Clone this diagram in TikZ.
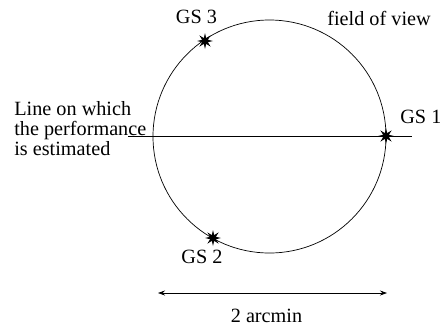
\documentclass[tikz,border=0pt]{standalone}
\usepackage{fontspec}
\setmainfont{Liberation Serif}
\usetikzlibrary{arrows.meta,shapes.geometric}

\begin{document}
\begin{tikzpicture}[x=1bp, y=-1bp, line width=0.7bp, >={Stealth[length=7bp,width=5bp]},
  every node/.style={font=\fontsize{20.3}{20}\selectfont, inner sep=0pt},
  gsstar/.style={star, star points=8, star point ratio=2.6, minimum size=16bp, fill=black, draw=none}]
  \useasboundingbox (0,0) rectangle (440,326);
  \node[circle, draw, minimum size=233bp] (fov) at (269.5,136.5) {};
  \coordinate (lineL) at (128,136);
  \coordinate (lineR) at (412,136);
  \draw (lineL) -- (lineR);
  \node[gsstar] (gs1) at (386,136) {};
  \node[gsstar] (gs2) at (213,238) {};
  \node[gsstar] (gs3) at (205,41) {};
  \node[anchor=base west] (lbl1) at (400,123) {GS 1};
  \node[anchor=base] (lbl2) at (202,263) {GS 2};
  \node[anchor=base] (lbl3) at (196.5,23) {GS 3};
  \node[anchor=base west] (fovlbl) at (327,25) {field of view};
  \node[anchor=base west, align=left] (linelbl) at (14,155.5) {Line on which\\the performance\\is estimated};
  \coordinate (arrL) at (158,293);
  \coordinate (arrR) at (387,293);
  \draw[<->] (arrL) -- (arrR);
  \node[anchor=base] (scale) at (266.5,322) {2 arcmin};
\end{tikzpicture}
\end{document}
